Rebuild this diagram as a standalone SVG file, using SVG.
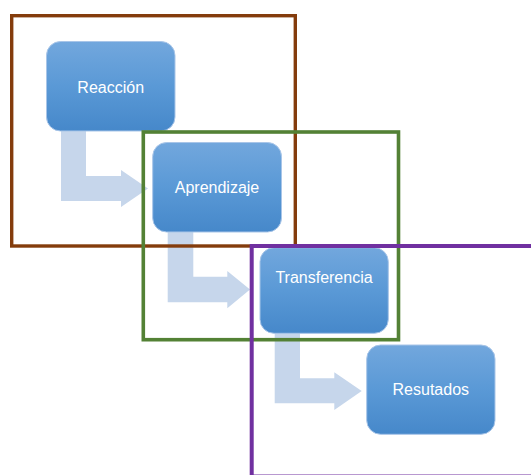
<svg xmlns="http://www.w3.org/2000/svg" width="531" height="475" viewBox="0 0 531 475">
<defs>
<linearGradient id="g" x1="0" y1="0" x2="0" y2="1">
<stop offset="0" stop-color="#72a7dd"/>
<stop offset="0.5" stop-color="#5a99d6"/>
<stop offset="1" stop-color="#4688ca"/>
</linearGradient>
</defs>
<style>
.box{fill:url(#g);stroke:#a8c5e8;stroke-width:1}
.lbl{font-family:"Liberation Sans",Arial,sans-serif;font-size:16px;fill:#ffffff;text-anchor:middle}
.arr{fill:#c6d6eb}
.frame{fill:none}
</style>
<rect width="531" height="475" fill="#ffffff"/>
<g id="connectors">
<path class="arr" d="M61,131 H86 V176 H121 V170 L148,188.5 L121,207 V201 H61 Z"/>
<path class="arr" d="M167.7,232 H193.3 V276.7 H227.3 V271 L250,289.5 L227.3,308.3 V302.3 H167.7 Z"/>
<path class="arr" d="M274.7,333 H300 V378.3 H334.3 V372.3 L361.7,391 L334.3,410 V403.3 H274.7 Z"/>
</g>
<g id="reaccion">
<rect class="box" x="46.5" y="41.5" width="128.5" height="89.5" rx="14"/>
<text class="lbl" x="110.7" y="92.5">Reacción</text>
</g>
<g id="aprendizaje">
<rect class="box" x="152.7" y="142.5" width="128.8" height="89.5" rx="14"/>
<text class="lbl" x="217" y="193">Aprendizaje</text>
</g>
<g id="transferencia">
<rect class="box" x="260" y="247.7" width="128.3" height="85.6" rx="14"/>
<text class="lbl" x="324" y="283.3">Transferencia</text>
</g>
<g id="resutados">
<rect class="box" x="366.7" y="345" width="128.3" height="89.3" rx="14"/>
<text class="lbl" x="430.8" y="395">Resutados</text>
</g>
<g id="frames">
<rect id="frame-brown" class="frame" x="11.7" y="15.7" width="283.6" height="230.3" stroke="#843c0c" stroke-width="3.4"/>
<rect id="frame-green" class="frame" x="143.3" y="132" width="255.2" height="207.7" stroke="#538135" stroke-width="3.6"/>
<rect id="frame-purple" class="frame" x="251.7" y="246" width="282" height="230.5" stroke="#7030a0" stroke-width="4"/>
</g>
</svg>
